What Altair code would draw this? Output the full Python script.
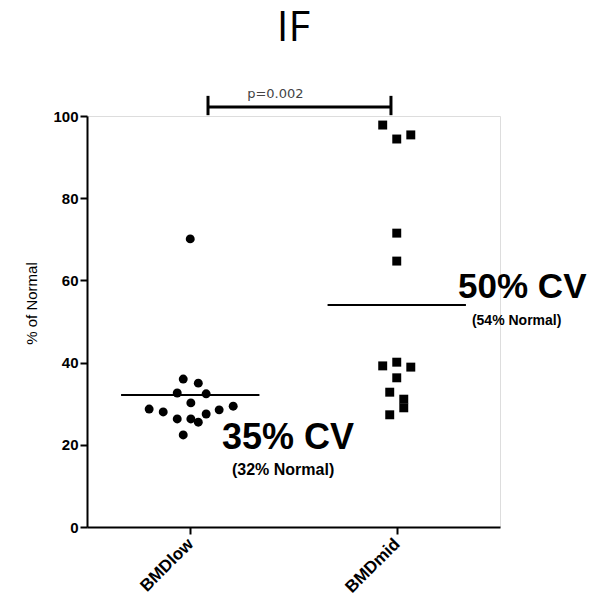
import altair as alt
import pandas as pd

# ---- data ----
low_x = [0.966, 1.039, 0.937, 1.077, 1.003, 0.801, 0.869, 1.140, 1.208, 0.937, 1.003, 1.039, 1.077, 0.966, 1.000]
low_y = [36.0, 35.0, 32.6, 32.4, 30.2, 28.7, 28.0, 28.5, 29.4, 26.3, 26.3, 25.5, 27.5, 22.4, 70.1]
mid_x = [1.932, 2.000, 2.068, 2.000, 2.000, 1.932, 2.000, 2.068, 2.000, 1.966, 2.034, 2.034, 1.966]
mid_y = [97.8, 94.4, 95.4, 71.5, 64.7, 39.2, 40.1, 38.9, 36.3, 32.8, 31.1, 29.0, 27.3]

groups = ["BMDlow", "BMDmid"]
group_pos = [1, 2]
group_means = [32.1, 54.0]
cv_labels = ["35% CV", "50% CV"]
norm_labels = ["(32%  Normal)", "(54% Normal)"]
y_ticks = [0, 20, 40, 60, 80, 100]
p_label = "p=0.002"

points = pd.DataFrame({
    "x": low_x + mid_x,
    "y": low_y + mid_y,
    "group": ["BMDlow"] * len(low_x) + ["BMDmid"] * len(mid_x),
})
means = pd.DataFrame({"group": groups, "pos": group_pos, "mean": group_means})

FONT = "Liberation Sans"
xscale = alt.Scale(domain=[0.5, 2.5], nice=False, zero=False)
yscale = alt.Scale(domain=[0, 100], nice=False)

x_axis = alt.Axis(
    values=group_pos, labelExpr="datum.value == 1 ? 'BMDlow' : 'BMDmid'",
    title=None, grid=False, domainColor="black", domainWidth=2,
    tickColor="black", tickWidth=2, tickSize=7, labelAngle=-45,
    labelAlign="right", labelBaseline="middle", labelFont=FONT,
    labelFontWeight="bold", labelFontSize=17, labelColor="black", labelPadding=7,
)
y_axis = alt.Axis(
    values=y_ticks, title="% of Normal", grid=False, domainColor="black",
    domainWidth=2, tickColor="black", tickWidth=2, tickSize=7,
    labelFont=FONT, labelFontWeight="bold", labelFontSize=15, labelColor="black",
    labelPadding=2, titleFont=FONT, titleFontWeight="normal", titleFontSize=15,
    titleColor="black", titleAngle=-90, titleX=-56, titleY=187,
    titleAlign="center", titleBaseline="middle",
)

pts = alt.Chart(points).mark_point(filled=True, opacity=1, color="black", size=80).encode(
    x=alt.X("x:Q", scale=xscale, axis=x_axis),
    y=alt.Y("y:Q", scale=yscale, axis=y_axis),
    shape=alt.Shape("group:N", scale=alt.Scale(domain=groups, range=["circle", "square"]), legend=None),
)

mean_lines = alt.Chart(means).transform_calculate(
    x1="datum.pos - 0.335", x2="datum.pos + 0.335"
).mark_rule(color="black", strokeWidth=2).encode(
    x=alt.X("x1:Q", scale=xscale), x2="x2:Q", y=alt.Y("mean:Q", scale=yscale)
)

ann = pd.DataFrame({
    "x": [1.154, 2.297, 1.202, 2.364],
    "y": [19.0, 55.7, 12.7, 49.1],
    "t": [cv_labels[0], cv_labels[1], norm_labels[0], norm_labels[1]],
    "size": [36, 35, 16, 14],
})
ann_text = alt.Chart(ann).mark_text(
    align="left", baseline="alphabetic", font=FONT, fontWeight="bold", color="black"
).encode(
    x=alt.X("x:Q", scale=xscale), y=alt.Y("y:Q", scale=yscale), text="t:N",
    size=alt.Size("size:Q", scale=None, legend=None),
)

bracket_h = pd.DataFrame({"x": [1.086], "x2": [1.972], "y": [102.2]})
bracket_v = pd.DataFrame({"x": [1.086, 1.972], "y": [100.2, 100.2], "y2": [104.9, 104.9]})
b1 = alt.Chart(bracket_h).mark_rule(color="black", strokeWidth=3).encode(
    x=alt.X("x:Q", scale=xscale), x2="x2:Q", y=alt.Y("y:Q", scale=yscale)
)
b2 = alt.Chart(bracket_v).mark_rule(color="black", strokeWidth=3).encode(
    x=alt.X("x:Q", scale=xscale), y=alt.Y("y:Q", scale=yscale), y2="y2:Q"
)
ptext = alt.Chart(pd.DataFrame({"x": [1.412], "y": [104.4], "t": [p_label]})).mark_text(
    align="center", baseline="alphabetic", font="DejaVu Sans", fontSize=13, color="#444444"
).encode(x=alt.X("x:Q", scale=xscale), y=alt.Y("y:Q", scale=yscale), text="t:N")

chart = alt.layer(mean_lines, pts, ann_text, b1, b2, ptext).properties(
    width=413, height=411,
    title=alt.TitleParams("IF", font="Open Sans", fontSize=42, fontWeight="normal",
                          color="black", anchor="middle", offset=38),
    autosize=alt.AutoSizeParams(type="none"),
    padding={"left": 79, "top": 108, "right": 100, "bottom": 71},
).configure_view(stroke=None).configure(background="white")

chart.save("out.html", embed_options={"renderer": "svg", "actions": False})
